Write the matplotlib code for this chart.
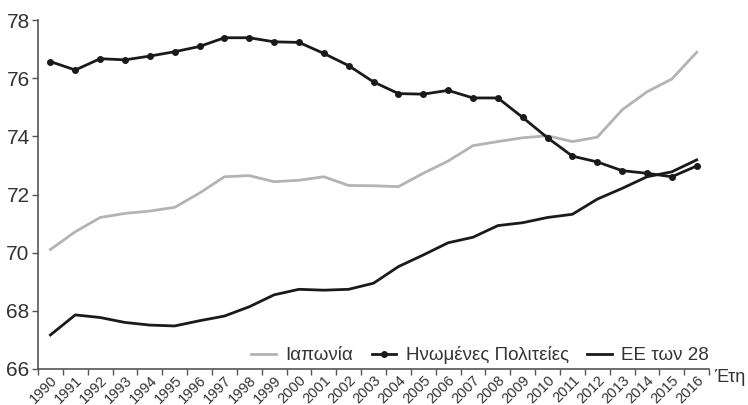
import matplotlib
matplotlib.use("Agg")
import matplotlib.pyplot as plt
import numpy as np

plt.rcParams['font.family'] = ['Liberation Sans', 'DejaVu Sans']

years = [str(y) for y in range(1990, 2017)]
japan = [70.11, 70.72, 71.21, 71.35, 71.43, 71.56, 72.05, 72.61, 72.65, 72.44, 72.49, 72.61,
         72.31, 72.30, 72.27, 72.73, 73.15, 73.68, 73.82, 73.95, 74.02, 73.82, 73.97, 74.91,
         75.53, 75.97, 76.89]
usa = [76.57, 76.28, 76.67, 76.63, 76.76, 76.91, 77.09, 77.39, 77.39, 77.25, 77.23, 76.85,
       76.43, 75.87, 75.47, 75.45, 75.58, 75.32, 75.32, 74.65, 73.95, 73.32, 73.12, 72.82,
       72.73, 72.61, 72.98]
eu28 = [67.17, 67.86, 67.77, 67.60, 67.51, 67.48, 67.66, 67.82, 68.14, 68.55, 68.74, 68.71,
        68.74, 68.95, 69.52, 69.92, 70.34, 70.53, 70.93, 71.03, 71.21, 71.32, 71.84, 72.21,
        72.61, 72.78, 73.19]
labels = ["Ιαπωνία", "Ηνωμένες Πολιτείες", "ΕΕ των 28"]
yticks = [66, 68, 70, 72, 74, 76, 78]

fig = plt.figure(figsize=(7.48, 4.05), dpi=100)
ax = fig.add_axes([0.0508, 0.0889, 0.8972, 0.8617])
x = np.arange(len(years))
ax.plot(x, japan, color='#b3b3b3', lw=2.0, label=labels[0])
ax.plot(x, usa, color='#1a1a1a', lw=2.0, marker='o', ms=4, label=labels[1])
ax.plot(x, eu28, color='#1a1a1a', lw=2.0, label=labels[2])

ax.set_ylim(66, 78)
ax.set_xlim(-0.5, len(years) - 0.5)
ax.set_yticks(yticks)
ax.set_yticklabels([str(v) for v in yticks], fontsize=15, color='#333333')
ax.set_xticks(np.arange(len(years) + 1) - 0.5)
ax.set_xticklabels([])
ax.set_xticks(x, minor=True)
ax.set_xticklabels(years, minor=True, rotation=45, ha='right', va='top',
                   rotation_mode='anchor', fontsize=10.5, color='#333333')
ax.tick_params(axis='x', which='minor', length=0, pad=3)
ax.tick_params(axis='x', which='major', length=4, width=1, color='#555555', direction='out')
ax.tick_params(axis='y', length=4, width=1, color='#555555', pad=2)
for s in ['top', 'right']:
    ax.spines[s].set_visible(False)
for s in ['left', 'bottom']:
    ax.spines[s].set_color('#555555')
    ax.spines[s].set_linewidth(1.2)

fig.text(0.955, 0.068, "Έτη", fontsize=13, color='#333333', ha='left', va='center')

fig.legend(loc='center', bbox_to_anchor=(0.642, 0.123), ncol=3, frameon=False,
           fontsize=13.5, handlelength=1.3, columnspacing=1.0, handletextpad=0.5,
           labelcolor='#333333', borderpad=0.2)

fig.savefig("out.png", dpi=100)
